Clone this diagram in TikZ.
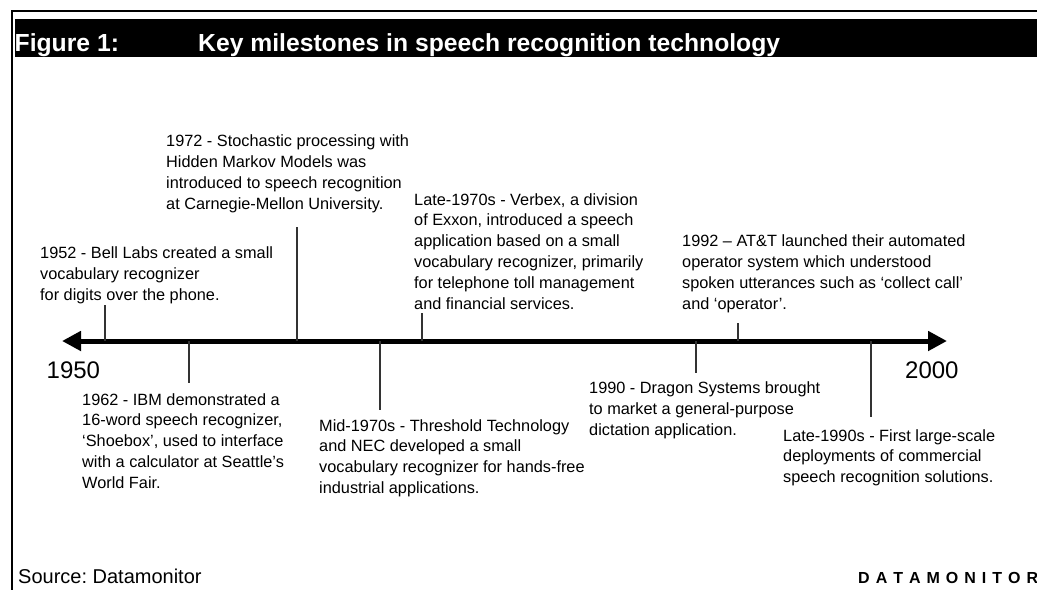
\documentclass[tikz,border=0pt]{standalone}
\usepackage{fontspec}
\setmainfont{Liberation Sans}
\usetikzlibrary{arrows.meta}
\begin{document}
\frenchspacing
\begin{tikzpicture}[x=1pt,y=-1pt,
  note/.style={anchor=north west, inner sep=0pt, align=left,
    font=\fontsize{16.3}{20.8}\selectfont},
  tickline/.style={draw=black!80, line width=1.2pt},
  axisline/.style={line width=5pt,
    {Triangle[length=19pt,width=19pt]}-{Triangle[length=19pt,width=19pt]}},
  yearlabel/.style={anchor=base west, inner sep=0pt,
    font=\fontsize{24}{28}\selectfont},
  titletext/.style={anchor=base west, inner sep=0pt, text=white,
    font=\bfseries\fontsize{24.7}{28}\selectfont},
]
\useasboundingbox (0,0) rectangle (1037,590);

% frame and title bar
\draw[line width=2pt] (1037,11) -- (12,11) -- (12,590);
\fill[black] (14.5,19) rectangle (1037,57);
\node[titletext] (fig) at (14.5,51.5) {Figure 1:};
\node[titletext] (title) at (198,51.5) {Key milestones in speech recognition technology};

% time axis
\coordinate (axL) at (62,341);
\coordinate (axR) at (947,341);
\draw[axisline] (axL) -- (axR);
\node[yearlabel] (y1950) at (46.5,378) {1950};
\node[yearlabel] (y2000) at (905,378) {2000};

% milestones above the axis
\node[note] (m1952) at (40,246.6) {1952 - Bell Labs created a small\\vocabulary recognizer\\for digits over the phone.};
\node[note] (m1972) at (166,134.8) {1972 - Stochastic processing with\\Hidden Markov Models was\\introduced to speech recognition\\at Carnegie-Mellon University.};
\node[note] (m1970s) at (414,193.1) {Late-1970s - Verbex, a division\\of Exxon, introduced a speech\\application based on a small\\vocabulary recognizer, primarily\\for telephone toll management\\and financial services.};
\node[note] (m1992) at (682,234.8) {1992 – AT\&T launched their automated\\operator system which understood\\spoken utterances such as ‘collect call’\\and ‘operator’.};

% milestones below the axis
\node[note] (m1962) at (82,393.1) {1962 - IBM demonstrated a\\16-word speech recognizer,\\‘Shoebox’, used to interface\\with a calculator at Seattle’s\\World Fair.};
\node[note] (mMid) at (319,419.1) {Mid-1970s - Threshold Technology\\and NEC developed a small\\vocabulary recognizer for hands-free\\industrial applications.};
\node[note] (m1990) at (589,381.6) {1990 - Dragon Systems brought\\to market a general-purpose\\dictation application.};
\node[note] (m1990s) at (783,429.1) {Late-1990s - First large-scale\\deployments of commercial\\speech recognition solutions.};

% ticks joining each milestone to the axis
\coordinate (a1952) at (105,341);  \coordinate (e1952) at (105,305);
\coordinate (a1972) at (297,341);  \coordinate (e1972) at (297,227);
\coordinate (a1970s) at (422,341); \coordinate (e1970s) at (422,313);
\coordinate (a1992) at (738,341);  \coordinate (e1992) at (738,323);
\coordinate (a1962) at (189,341);  \coordinate (e1962) at (189,383);
\coordinate (aMid) at (380,341);   \coordinate (eMid) at (380,410);
\coordinate (a1990) at (696,341);  \coordinate (e1990) at (696,373);
\coordinate (a1990s) at (871,341); \coordinate (e1990s) at (871,417);
\foreach \k in {1952,1972,1970s,1992,1962,Mid,1990,1990s}
  \draw[tickline] (a\k) -- (e\k);

% footer
\node[anchor=base west, inner sep=0pt, font=\fontsize{20}{24}\selectfont] (src) at (18,583) {Source: Datamonitor};
\node[anchor=base west, inner sep=0pt, font=\bfseries\fontsize{16}{20}\selectfont] (brand) at (858,583)
  {D\kern6pt A\kern6pt T\kern6pt A\kern6pt M\kern6pt O\kern6pt N\kern6pt I\kern6pt T\kern6pt O\kern6pt R};
\end{tikzpicture}
\end{document}
